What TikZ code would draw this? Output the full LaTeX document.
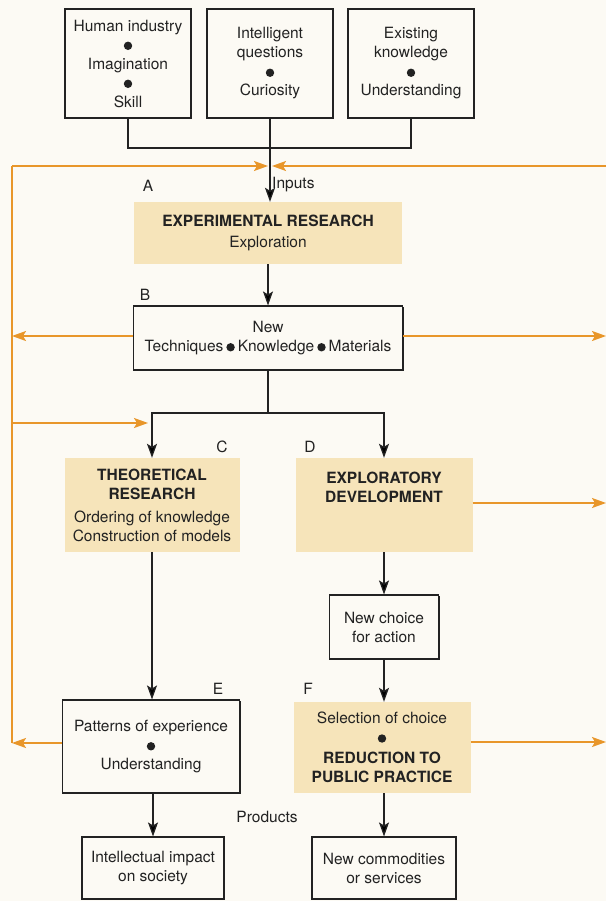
\documentclass[tikz,border=0pt]{standalone}
\usepackage{fontspec}
\setmainfont{TeX Gyre Heros}
\usepackage{tikz}
\usetikzlibrary{arrows.meta,shadows}
\usepackage{xcolor}
\definecolor{paper}{HTML}{FCFAF4}
\definecolor{tan}{HTML}{F6E4BA}
\definecolor{feed}{HTML}{E8962A}
\definecolor{ink}{HTML}{222222}
\newcommand{\blob}{\tikz[baseline={(0pt,-4.2pt)}]\fill[ink] (0pt,0pt) circle (4.2pt);}

\begin{document}
\begin{tikzpicture}[x=1pt, y=-1pt, >=Stealth,
  every node/.style={font=\fontsize{15.5}{19}\selectfont, text=ink},
  box/.style={draw=ink, line width=1.1pt, fill=paper, align=center, inner sep=2pt,
              general shadow={fill=ink, shadow xshift=1.4pt, shadow yshift=-1.4pt}},
  stage/.style={fill=tan, align=center, inner sep=2pt},
  tag/.style={inner sep=0pt},
  flow/.style={draw=ink, line width=1.3pt, arrows={-Stealth[length=14pt, width=10pt, inset=3pt]}},
  link/.style={draw=ink, line width=1.3pt},
  fb/.style={draw=feed, line width=1.7pt, arrows={-Stealth[length=14pt, width=10pt, inset=3pt]}},
  rail/.style={draw=feed, line width=1.7pt}]

  \useasboundingbox[fill=paper] (0,0) rectangle (606,901);

  % ---- Inputs: three boxes on top ----
  \node[box, minimum width=126pt, minimum height=109pt] (hum) at (128,63.5)
    {Human industry\\ \blob\\ Imagination\\ \blob\\ Skill};
  \node[box, minimum width=126pt, minimum height=109pt] (que) at (270,63.5)
    {Intelligent\\ questions\\ \blob\\ Curiosity};
  \node[box, minimum width=126pt, minimum height=109pt] (kno) at (411,63.5)
    {Existing\\ knowledge\\ \blob\\ Understanding};

  % ---- A and B ----
  \node[stage, minimum width=268pt, minimum height=62pt] (expr) at (268,233)
    {\bfseries EXPERIMENTAL RESEARCH\\[2pt] Exploration};
  \node[box, minimum width=269pt, minimum height=64pt] (newb) at (268,338)
    {New\\ Techniques\kern3pt\blob\kern3pt Knowledge\kern3pt\blob\kern3pt Materials};

  % ---- C and D ----
  \node[stage, minimum width=175pt, minimum height=94pt] (theo) at (152,505)
    {\bfseries THEORETICAL\\ \bfseries RESEARCH\\[4pt] Ordering of knowledge\\ Construction of models};
  \node[stage, minimum width=177pt, minimum height=94pt] (dev) at (384,505)
    {\bfseries EXPLORATORY\\ \bfseries DEVELOPMENT\\[16pt]};
  \node[box, minimum width=109pt, minimum height=64pt] (choice) at (384,627)
    {New choice\\ for action};

  % ---- E and F ----
  \node[box, minimum width=177pt, minimum height=93pt] (patt) at (151,746.5)
    {Patterns of experience\\ \blob\\ Understanding};
  \node[stage, minimum width=177pt, minimum height=91pt] (red) at (382,747.5)
    {Selection of choice\\ \blob\\[2pt] \bfseries REDUCTION TO\\ \bfseries PUBLIC PRACTICE};

  % ---- Products ----
  \node[box, minimum width=142pt, minimum height=62pt] (impact) at (153,868)
    {Intellectual impact\\ on society};
  \node[box, minimum width=144pt, minimum height=62pt] (comm) at (384,868)
    {New commodities\\ or services};

  % ---- Letters and captions ----
  \node[tag] (la) at (148,186) {A};
  \node[tag] (lb) at (145,295) {B};
  \node[tag] (lc) at (222,447) {C};
  \node[tag] (ld) at (310,447) {D};
  \node[tag] (le) at (218,689) {E};
  \node[tag] (lf) at (308,689) {F};
  \node[tag, anchor=west] (inp) at (272,185) {Inputs};
  \node[tag] (prod) at (267,817) {Products};

  % ---- Black flow ----
  \coordinate (join) at (270,148);
  \coordinate (split) at (268,413);
  \draw[link] (hum.south) |- (join) -| (kno.south);
  \draw[flow] (que.south) -- (que.south |- expr.north);
  \draw[flow] (expr.south) -- (newb.north);
  \draw[link] (newb.south) -- (split);
  \draw[flow] (split) -| (theo.north);
  \draw[flow] (split) -| (dev.north);
  \draw[flow] (theo.south) -- (patt.north -| theo.south);
  \draw[flow] (dev.south) -- (choice.north);
  \draw[flow] (choice.south) -- (choice.south |- red.north);
  \draw[flow] (patt.south -| impact.north) -- (impact.north);
  \draw[flow] (red.south -| comm.north) -- (comm.north);

  % ---- Orange feedback ----
  \coordinate (rtop) at (12,166);
  \coordinate (rbot) at (12,743);
  \coordinate (rend) at (606,166);
  \draw[rail] (rtop) -- (rbot);
  \draw[fb] (rtop) -- (268,166);
  \draw[fb] (rend) -- (272,166);
  \draw[fb] (newb.west |- 0,336) -- (rtop |- 0,336);
  \draw[fb] (newb.east |- 0,336) -- (rend |- 0,336);
  \draw[fb] (rtop |- 0,423) -- (148,423);
  \draw[fb] (dev.east |- 0,503) -- (rend |- 0,503);
  \draw[fb] (patt.west |- 0,743) -- (rbot);
  \draw[fb] (red.east |- 0,742) -- (rend |- 0,742);
\end{tikzpicture}
\end{document}
